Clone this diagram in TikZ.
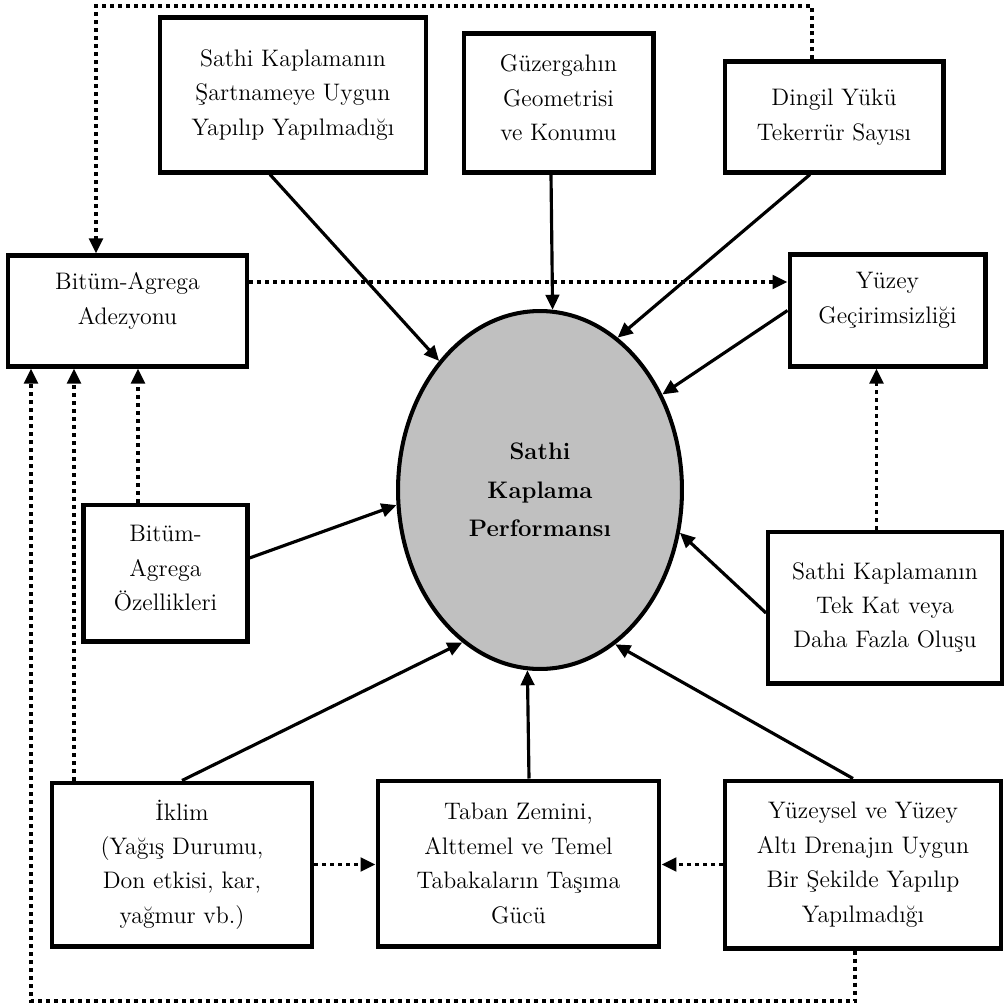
\documentclass[tikz,border=0pt]{standalone}
\usepackage{tikz}
\usetikzlibrary{positioning,calc,shapes.geometric,arrows.meta}
\definecolor{griton}{HTML}{C0C0C0}

\begin{document}
\begin{tikzpicture}
	[
	x = 0.02cm, y = -0.02cm,
	font = \fontsize{13.6}{19.6}\selectfont,
	kutu/.style    = {draw, line width=2.3pt, align=center, inner sep=0pt},
	etki/.style    = {line width=1.8pt, -{Triangle[length=0.3cm,width=0.27cm]}},
	nokta/.style   = {line width=2.1pt, dash pattern=on 0.08cm off 0.08cm},
	noktaok/.style = {nokta, -{Triangle[length=0.3cm,width=0.27cm]}}
	]
	\useasboundingbox (0,0) rectangle (1005,1008);

	\node (perf) [ellipse, draw, line width=2.3pt, fill=griton, align=center,
		minimum width=5.68cm, minimum height=7.16cm,
		font=\bfseries\fontsize{13.6}{21.9}\selectfont] at (540,490)
		{Sathi\\Kaplama\\Performansı};

	\node (sart) [kutu, minimum width=5.32cm, minimum height=3.10cm] at (293,95)
		{Sathi Kaplamanın\\Şartnameye Uygun\\Yapılıp Yapılmadığı};
	\node (guz) [kutu, minimum width=3.80cm, minimum height=2.78cm, text depth=5.7pt] at (558.5,103)
		{Güzergahın\\Geometrisi\\ve Konumu};
	\node (dingil) [kutu, minimum width=4.38cm, minimum height=2.22cm] at (834,117)
		{Dingil Yükü\\Tekerrür Sayısı};
	\node (adez) [kutu, minimum width=4.80cm, minimum height=2.22cm, text depth=14.2pt] at (127.5,311)
		{Bitüm-Agrega\\Adezyonu};
	\node (yuzey) [kutu, minimum width=3.92cm, minimum height=2.24cm, text depth=14.2pt] at (887.5,310.5)
		{Yüzey\\Geçirimsizliği};
	\node (ozel) [kutu, minimum width=3.28cm, minimum height=2.74cm, text depth=5.7pt] at (165.5,573)
		{Bitüm-\\Agrega\\Özellikleri};
	\node (tekkat) [kutu, minimum width=4.68cm, minimum height=3.04cm] at (885,607.5)
		{Sathi Kaplamanın\\Tek Kat veya\\Daha Fazla Oluşu};
	\node (iklim) [kutu, minimum width=5.22cm, minimum height=3.28cm] at (182,864.5)
		{İklim\\(Yağış Durumu,\\Don etkisi, kar,\\yağmur vb.)};
	\node (taban) [kutu, minimum width=5.64cm, minimum height=3.32cm] at (518.5,863.5)
		{Taban Zemini,\\Alttemel ve Temel\\Tabakaların Taşıma\\Gücü};
	\node (drenaj) [kutu, minimum width=5.52cm, minimum height=3.36cm] at (863,864.5)
		{Yüzeysel ve Yüzey\\Altı Drenajın Uygun\\Bir Şekilde Yapılıp\\Yapılmadığı};

	\coordinate (ustsol) at (96,6);
	\coordinate (altsol) at (31,1001);
	\coordinate (adezsag) at ($(adez.east)+(0,-29)$);
	\coordinate (ozelust) at ($(ozel.north)+(-27.5,0)$);
	\coordinate (iklimust) at ($(iklim.north)+(-108,0)$);
	\coordinate (tekust) at ($(tekkat.north)+(-8.5,0)$);

	\path
	($(sart.south)+(-23,0)$) edge [etki] (perf.128)
	($(guz.south)+(-7.5,0)$) edge [etki] (perf.86.5)
	($(dingil.south)+(-24,0)$) edge [etki] (perf.63.3)
	(yuzey.west) edge [etki] (perf.38.8)
	($(ozel.east)+(0,-15)$) edge [etki] (perf.186)
	($(tekkat.west)+(0,5.5)$) edge [etki] (perf.343.3)
	(iklim.north) edge [etki] (perf.243.3)
	($(taban.north)+(10.5,0)$) edge [etki] (perf.266.5)
	($(drenaj.north)+(-10,0)$) edge [etki] (perf.296.7);

	\path
	(adezsag) edge [noktaok] (adezsag -| yuzey.west)
	(ozelust) edge [noktaok] (ozelust |- adez.south)
	(iklimust) edge [noktaok] (iklimust |- adez.south)
	(tekust) edge [noktaok] (tekust |- yuzey.south)
	(iklim.east) edge [noktaok] (iklim.east -| taban.west)
	(drenaj.west) edge [noktaok] (drenaj.west -| taban.east);

	\draw [noktaok] ($(dingil.north)+(-22,0)$) |- (ustsol) -- (ustsol |- adez.north);
	\draw [noktaok] ($(drenaj.south)+(-8,0)$) |- (altsol) -- (altsol |- adez.south);
\end{tikzpicture}
\end{document}
